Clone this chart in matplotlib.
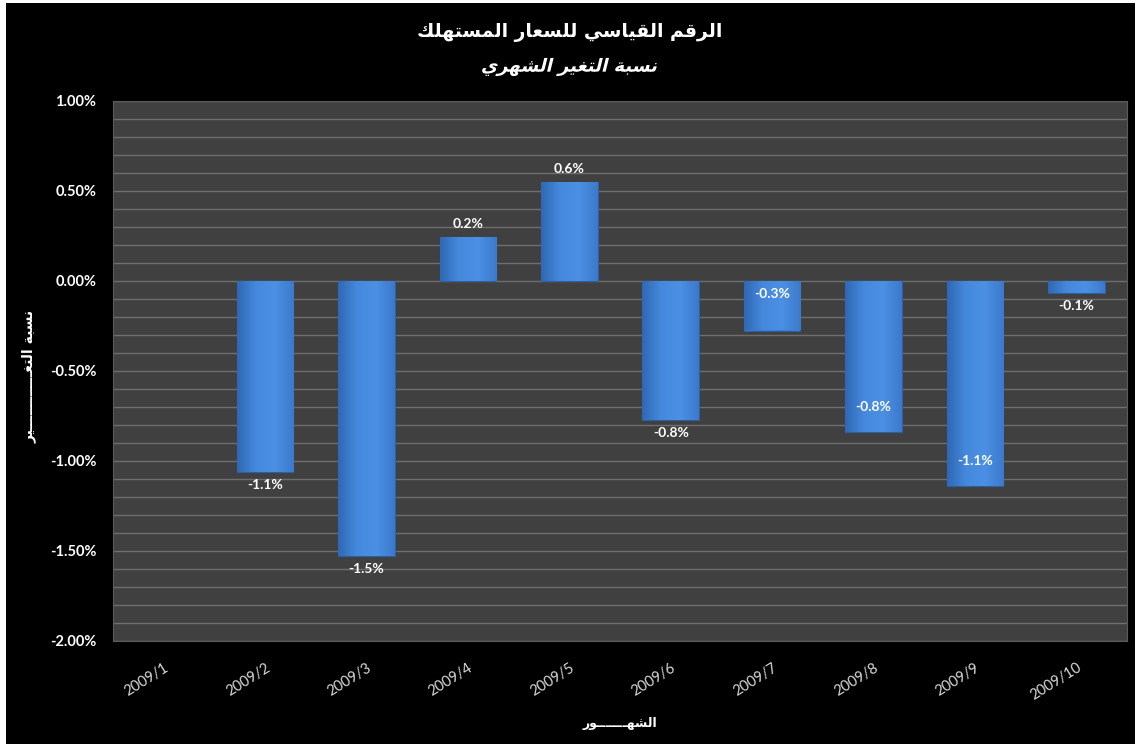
import numpy as np
import matplotlib
matplotlib.use('Agg')
import matplotlib.pyplot as plt
from matplotlib.colors import LinearSegmentedColormap
from matplotlib.patches import Rectangle, PathPatch
from matplotlib.ticker import MultipleLocator, FuncFormatter
from matplotlib.textpath import TextPath
from matplotlib.font_manager import FontProperties
from matplotlib.transforms import Affine2D, IdentityTransform

# data (monthly change, %)
months = ['2009/1', '2009/2', '2009/3', '2009/4', '2009/5',
          '2009/6', '2009/7', '2009/8', '2009/9', '2009/10']
change = [0.0, -1.06, -1.53, 0.245, 0.55, -0.77, -0.275, -0.84, -1.14, -0.065]
value_labels = ['', '-1.1%', '-1.5%', '0.2%', '0.6%',
                '-0.8%', '-0.3%', '-0.8%', '-1.1%', '-0.1%']
inside = [6, 7, 8]  # labels drawn inside the bar end

title1 = 'الرقم القياسي للسعار المستهلك'
title2 = 'نسبة التغير الشهري'
ylab = 'نسبة التغــــــــــــير'
xlab = 'الشهـــــــور'

# matplotlib has no arabic shaping, so map letters to presentation forms
FORMS = {
    'ا': ('\ufe8d', '\ufe8e', None, None),
    'ب': ('\ufe8f', '\ufe90', '\ufe91', '\ufe92'),
    'ة': ('\ufe93', '\ufe94', None, None),
    'ت': ('\ufe95', '\ufe96', '\ufe97', '\ufe98'),
    'ر': ('\ufead', '\ufeae', None, None),
    'س': ('\ufeb1', '\ufeb2', '\ufeb3', '\ufeb4'),
    'ش': ('\ufeb5', '\ufeb6', '\ufeb7', '\ufeb8'),
    'ع': ('\ufec9', '\ufeca', '\ufecb', '\ufecc'),
    'غ': ('\ufecd', '\ufece', '\ufecf', '\ufed0'),
    'ق': ('\ufed5', '\ufed6', '\ufed7', '\ufed8'),
    'ك': ('\ufed9', '\ufeda', '\ufedb', '\ufedc'),
    'ل': ('\ufedd', '\ufede', '\ufedf', '\ufee0'),
    'م': ('\ufee1', '\ufee2', '\ufee3', '\ufee4'),
    'ن': ('\ufee5', '\ufee6', '\ufee7', '\ufee8'),
    'ه': ('\ufee9', '\ufeea', '\ufeeb', '\ufeec'),
    'و': ('\ufeed', '\ufeee', None, None),
    'ي': ('\ufef1', '\ufef2', '\ufef3', '\ufef4'),
}
TATWEEL = 'ـ'


def shape(s):
    out = []
    for i, c in enumerate(s):
        if c not in FORMS:
            out.append(c)
            continue
        prev = s[i - 1] if i > 0 else ''
        nxt = s[i + 1] if i + 1 < len(s) else ''
        jp = prev == TATWEEL or (prev in FORMS and FORMS[prev][2] is not None)
        jn = FORMS[c][2] is not None and (nxt == TATWEEL or nxt in FORMS)
        iso, fin, ini, med = FORMS[c]
        if jp and jn:
            out.append(med)
        elif jp:
            out.append(fin)
        elif jn:
            out.append(ini)
        else:
            out.append(iso)
    return ''.join(out)[::-1]


W, H = 1135, 744
fig = plt.figure(figsize=(W / 100, H / 100), dpi=100)
fig.patch.set_facecolor('black')
# thin white frame on the left and top like the screenshot
fig.patches.append(Rectangle((0, 0), 6 / W, 1, transform=fig.transFigure,
                             facecolor='white', edgecolor='none'))
fig.patches.append(Rectangle((0, 1 - 3 / H), 1, 3 / H, transform=fig.transFigure,
                             facecolor='white', edgecolor='none'))

ax = fig.add_axes([113 / W, 1 - 641 / H, (1127 - 113) / W, (641 - 101) / H])
ax.set_facecolor('#404040')
for s in ax.spines.values():
    s.set_color('#5a5a5a')

ax.yaxis.set_major_locator(MultipleLocator(0.5))
ax.yaxis.set_minor_locator(MultipleLocator(0.1))
ax.yaxis.set_major_formatter(FuncFormatter(lambda v, p: f'{v:.2f}%'))
ax.grid(axis='y', which='both', color='#6e6e6e', linewidth=1)
ax.set_axisbelow(True)

x = np.arange(len(months))
bars = ax.bar(x, change, width=0.56, color='#3d7fd6', edgecolor='#2d5f9f',
              linewidth=0.8, zorder=2)

cmap = LinearSegmentedColormap.from_list('b', ['#3068b5', '#4589dd', '#4b90e4', '#3c7acb'])
grad = np.linspace(0, 1, 100).reshape(1, -1)
for b in bars:
    if b.get_height() == 0:
        b.set_visible(False)
        continue
    x0, y0 = b.get_x(), b.get_y()
    w, h = b.get_width(), b.get_height()
    im = ax.imshow(grad, extent=[x0, x0 + w, min(y0, y0 + h), max(y0, y0 + h)],
                   aspect='auto', cmap=cmap, zorder=3)
    im.set_clip_path(b)

for i, (v, lab) in enumerate(zip(change, value_labels)):
    if not lab:
        continue
    if v >= 0:
        ax.annotate(lab, (i, v), xytext=(0, 5), textcoords='offset points',
                    ha='center', va='bottom', color='white', fontsize=10,
                    fontweight='bold', family='Lato', zorder=5)
    elif i in inside:
        off = 22 if v > -0.5 else 14
        ax.annotate(lab, (i, v), xytext=(0, off), textcoords='offset points',
                    ha='center', va='bottom', color='white', fontsize=10,
                    fontweight='bold', family='Lato', zorder=5)
    else:
        ax.annotate(lab, (i, v), xytext=(0, -5), textcoords='offset points',
                    ha='center', va='top', color='white', fontsize=10,
                    fontweight='bold', family='Lato', zorder=5)

ax.set_xlim(-0.5, len(months) - 0.5)
ax.set_ylim(-2.0, 1.0)
ax.set_xticks(x)
ax.set_xticklabels(months, rotation=32, ha='right', rotation_mode='anchor',
                   color='#d9d9d9', fontsize=10.5, family='Lato')
ax.tick_params(axis='x', length=0, pad=14)
ax.tick_params(axis='y', which='both', length=0, pad=12)
for t in ax.get_yticklabels():
    t.set_color('white')
    t.set_fontweight('bold')
    t.set_fontsize(10.5)
    t.set_family('Lato')

ax.set_xlabel(shape(xlab), color='white', fontsize=9, fontweight='bold',
              family='DejaVu Sans', labelpad=10)
ax.set_ylabel(shape(ylab), color='white', fontsize=10, fontweight='bold',
              family='DejaVu Sans', labelpad=0)
ax.yaxis.set_label_coords(-0.075, 0.49)

fig.text(0.502, 1 - 32 / H, shape(title1), ha='center', va='center', color='white',
         fontsize=13.5, fontweight='bold', family='DejaVu Sans')

# second title line is italic; DejaVu has no oblique arabic, so skew the outline
fp = FontProperties(family='DejaVu Sans', weight='bold')
tp = TextPath((0, 0), shape(title2), size=13, prop=fp)
ext = tp.get_extents()
cx, cy = (ext.x0 + ext.x1) / 2, (ext.y0 + ext.y1) / 2
tr = (Affine2D().translate(-cx, -cy).skew_deg(14, 0).scale(100 / 72)
      .translate(0.502 * W, H - 67))
fig.add_artist(PathPatch(tp, transform=tr + IdentityTransform(),
                         facecolor='white', edgecolor='none'))

fig.savefig('out.png', dpi=100, facecolor=fig.get_facecolor())
